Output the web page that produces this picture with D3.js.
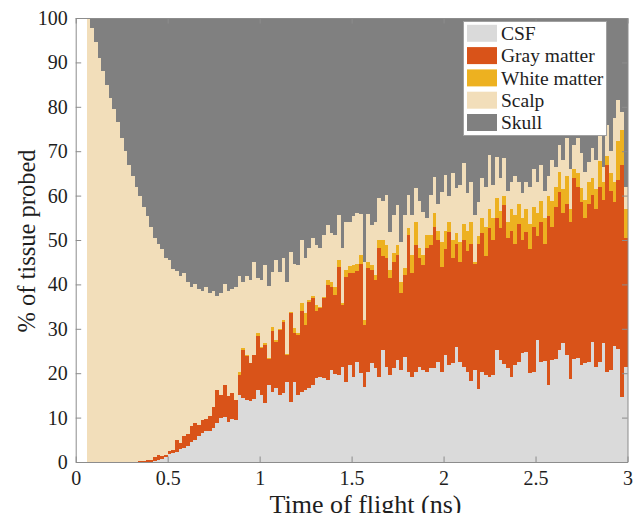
<!DOCTYPE html>
<html><head><meta charset="utf-8">
<script src="https://cdn.jsdelivr.net/npm/d3@7"></script>
<style>body{margin:0;background:#fff}</style>
</head><body><svg id="c" width="642" height="513"></svg>
<script>
// Bins of 0.02 ns; the first three bins (0-0.06 ns) are empty.
const binWidth = 0.02;
const binStart = d3.range(3, 150).map(i => +(i * binWidth).toFixed(2));

const csf = [
0,0,0,0,0,0,0,0,0,0,0,0,0,0,0,0,0,
0.1,0.3,0.5,0.7,1.2,1.8,2.0,2.3,3.0,3.2,3.5,4.6,5.0,5.8,6.5,6.9,7.0,7.6,8.8,9.9,10.2,9.0,9.6,9.5,15.0,14.5,14.0,13.8,14.2,16.3,
15.1,13.2,17.3,15.8,16.6,15.1,15.5,18.1,13.6,18.1,15.1,15.8,16.2,16.6,17.3,18.9,19.2,18.9,18.5,20.7,19.9,19.6,21.5,18.1,21.9,19.2,22.6,20.0,17.0,20.3,22.2,21.1,19.2,25.2,21.5,19.6,21.1,23.0,20.7,23.7,20.3,19.2,20.3,21.5,20.7,20.3,21.1,21.1,22.6,20.3,
24.1,21.9,22.2,25.8,22.6,21.5,20.3,18.2,20.7,16.4,20.3,19.6,19.2,19.6,25.2,23.0,22.0,21.1,19.2,21.9,22.5,24.5,24.7,20.0,20.3,27.5,22.6,22.8,17.3,23.0,23.2,25.2,26.7,24.1,18.7,23.1,23.5,21.9,22.2,22.6,27.1,21.5,22.6,26.9,20.3,20.8,26.1,25.5,14.6,21.5];

const grayMatter = [
0,0,0,0,0,0,0,0,0,0,0,0,0,0,
0.2,0.3,0.4,0.4,0.9,1.1,0.6,0.4,0.6,0.8,2.7,1.2,2.6,2.7,3.4,3.8,2.5,2.9,2.7,3.3,4.7,7.5,5.3,7.2,5.8,6.0,4.5,4.7,10.7,9.8,8.4,9.8,12.1,
10.5,13.1,6.0,13.6,10.5,14.6,16.1,6.0,19.9,10.9,13.5,18.1,14.7,19.5,19.6,15.0,15.4,18.0,21.4,18.8,17.7,24.4,13.9,23.6,20.6,23.3,20.4,24.7,13.9,23.3,21.1,19.9,28.9,21.1,24.4,21.8,24.0,23.6,17.3,18.4,30.8,23.3,28.6,24.4,23.7,27.8,27.8,31.9,27.4,23.7,
23.9,30.0,23.8,23.2,22.5,28.5,27.2,30.8,23.8,32.6,31.2,26.9,33.4,30.4,29.8,29.6,35.9,29.4,32.8,27.1,31.0,25.5,27.2,28.0,32.7,23.5,31.5,26.2,38.2,30.0,34.3,35.7,29.3,33.9,35.3,40.8,38.5,36.6,32.8,35.4,33.0,35.5,39.4,32.1,46.6,40.2,32.4,38.0,52.3,28.9];

const whiteMatter = [
0,0,0,0,0,0,0,0,0,0,0,0,0,0,0,0,0,0,0,0,0,0,0,0,0,0,0,0,0,0,0,0,0,0,0,0,0,0,0,0,0,
0.5,0.4,0.2,0.2,0.2,0.6,
0.4,0.5,0.2,0.9,0.4,0.3,0.4,0.2,0.3,1.1,0.4,1.8,2.6,0.4,0.4,1.5,0.4,0.3,1.1,1.1,1.9,1.5,0.3,1.6,1.6,1.9,1.7,1.9,1.1,1.5,1.1,1.1,1.9,3.7,3.0,1.9,1.9,2.3,2.6,1.5,1.5,4.1,5.2,2.2,2.2,3.0,2.2,3.0,2.0,5.6,
4.0,2.1,4.0,2.5,4.5,3.5,4.5,5.0,0.6,2.0,3.5,6.5,4.4,5.0,4.5,3.9,2.1,3.5,5.0,6.6,4.5,5.0,5.1,5.5,4.5,5.0,4.6,6.0,4.5,5.7,4.5,4.5,5.5,6.5,3.0,2.1,3.0,3.1,4.0,5.1,3.9,4.5,5.7,4.1,2.1,4.0,4.5,8.7,7.9,6.6];

const scalp = [
100,97.7,94.5,91,88,85,82,79.5,76.5,73,70,67,64.5,62,
59.8,57.2,55.1,52.5,49.3,47.4,46.7,44.4,43.1,40.7,38.0,37.8,36.7,34.3,31.5,31.2,30.7,29.1,29.9,27.7,26.2,21.2,22.8,22.6,23.7,23.4,25.5,21.8,14.9,18.0,18.6,20.8,12.5,
15.0,17.5,16.2,12.6,18.0,12.9,13.9,16.3,13.4,14.6,15.4,14.3,12.4,11.6,13.2,13.5,13.1,13.9,12.4,10.9,11.6,10.1,12.5,10.7,10.0,10.9,11.3,9.2,13.0,10.7,9.0,12.0,9.5,8.7,11.2,8.6,8.6,9.0,9.0,12.0,7.5,9.0,7.5,10.6,9.8,3.8,9.0,8.3,6.0,11.3,
12.6,6.0,15.0,10.1,12.9,13.8,8.5,9.0,10.5,7.5,9.0,9.0,12.1,7.5,9.3,7.5,8.4,7.0,6.1,8.9,5.0,5.5,6.1,8.5,8.5,7.0,8.2,6.0,4.5,9.3,4.5,6.0,6.5,8.4,9.0,5.4,7.9,7.9,6.4,4.4,6.7,6.5,5.8,3.4,6.9,5.0,14.4,9.3,4.1,5.0];

const skull = [
0,2.3,5.5,9,12,15,18,20.5,23.5,27,30,33,35.5,38,
40,42.5,44.5,47,49.5,51,52,54,54.5,56.5,57,58,57.5,59.5,60.5,60,61,61.5,60.5,62,61.5,62.5,62,60,61.5,61,60.5,58,59.5,58,59,55,58.5,
59.0,55.7,60.3,57.1,54.5,57.1,54.1,59.4,52.8,55.3,55.6,50.0,54.1,51.9,49.5,51.1,51.9,48.9,46.6,48.5,48.9,44.4,51.8,46.0,45.9,44.7,44.0,44.2,55.0,44.2,46.6,45.9,40.5,41.3,39.9,48.1,44.4,42.1,50.4,44.4,39.9,44.4,38.4,41.3,43.6,45.1,39.9,35.7,42.0,39.1,
35.4,40.0,35.0,38.4,37.5,32.7,39.5,37.0,44.4,41.5,36.0,38.0,30.9,37.5,31.2,36.0,31.6,39.0,36.9,35.5,37.0,39.5,36.9,38.0,34.0,37.0,33.1,39.0,35.5,32.0,33.5,28.6,32.0,27.1,34.0,28.6,27.1,30.5,34.6,32.5,29.3,32.0,26.5,33.5,24.1,30.0,22.6,18.5,21.1,38.0];

const seriesNames = ["CSF", "Gray matter", "White matter", "Scalp", "Skull"];
const seriesColors = ["#dadada", "#d95319", "#edb120", "#f2deba", "#808080"];
const xTicks = [0, 0.5, 1, 1.5, 2, 2.5, 3];
const yTicks = [0, 10, 20, 30, 40, 50, 60, 70, 80, 90, 100];
const xLabel = "Time of flight (ns)";
const yLabel = "% of tissue probed";

const seriesData = [csf, grayMatter, whiteMatter, scalp, skull];
const rows = binStart.map((t, i) => {
  const r = { t };
  seriesNames.forEach((n, k) => r[n] = seriesData[k][i]);
  return r;
});
const stacked = d3.stack().keys(seriesNames)(rows);

const svg = d3.select("#c");
const font = "'Liberation Serif','Times New Roman',Times,serif";
const x = d3.scaleLinear().domain([0, 3]).range([75.7, 627.5]);
const y = d3.scaleLinear().domain([0, 100]).range([462, 18]);
const color = d3.scaleOrdinal().domain(seriesNames).range(seriesColors);

svg.append("rect").attr("width", 642).attr("height", 513).attr("fill", "#fff");

const layers = svg.append("g").attr("shape-rendering", "crispEdges");
stacked.forEach(s => {
  layers.append("g").attr("fill", color(s.key))
    .selectAll("rect").data(s).join("rect")
    .attr("x", d => x(d.data.t))
    .attr("width", d => x(d.data.t + binWidth) - x(d.data.t))
    .attr("y", d => y(d[1]))
    .attr("height", d => Math.max(0, y(d[0]) - y(d[1])));
});

const axisColor = "#8c8c8c";
const textColor = "#1e1e1e";
function style(g) {
  g.select(".domain").attr("stroke", axisColor);
  g.selectAll(".tick line").attr("stroke", axisColor);
  g.selectAll(".tick text").attr("fill", textColor).attr("font-family", font).attr("font-size", 20);
}
const fmt = d3.format("");
svg.append("g").attr("transform", `translate(0,${y(0)})`)
  .call(d3.axisBottom(x).tickValues(xTicks).tickSizeInner(-5.5).tickSizeOuter(0).tickPadding(9).tickFormat(fmt))
  .call(style);
svg.append("g").attr("transform", `translate(${x(0)},0)`)
  .call(d3.axisLeft(y).tickValues(yTicks).tickSizeInner(-5.5).tickSizeOuter(0).tickPadding(8).tickFormat(fmt))
  .call(style);
svg.append("g").attr("transform", `translate(0,${y(100)})`)
  .call(d3.axisTop(x).tickValues(xTicks).tickSizeInner(-5.5).tickSizeOuter(0).tickFormat(""))
  .call(style);
svg.append("g").attr("transform", `translate(${x(3)},0)`)
  .call(d3.axisRight(y).tickValues(yTicks).tickSizeInner(-5.5).tickSizeOuter(0).tickFormat(""))
  .call(style);

svg.append("text").attr("x", 365.5).attr("y", 513).attr("text-anchor", "middle")
  .attr("fill", textColor).attr("font-family", font).attr("font-size", 26).text(xLabel);
svg.append("text").attr("transform", "translate(35,241) rotate(-90)").attr("text-anchor", "middle")
  .attr("fill", textColor).attr("font-family", font).attr("font-size", 24.5).text(yLabel);

// Legend
const lg = svg.append("g");
lg.append("rect").attr("x", 463.5).attr("y", 21.5).attr("width", 143).attr("height", 114)
  .attr("fill", "#fff").attr("stroke", "#a0a0a0").attr("stroke-width", 1);
seriesNames.forEach((n, i) => {
  const cy = 33.3 + i * 22.3;
  lg.append("rect").attr("x", 467).attr("y", cy - 8.5).attr("width", 30).attr("height", 17).attr("fill", color(n));
  lg.append("text").attr("x", 501).attr("y", cy + 6.7).attr("fill", textColor)
    .attr("font-family", font).attr("font-size", 19.5).text(n);
});
</script></body></html>
